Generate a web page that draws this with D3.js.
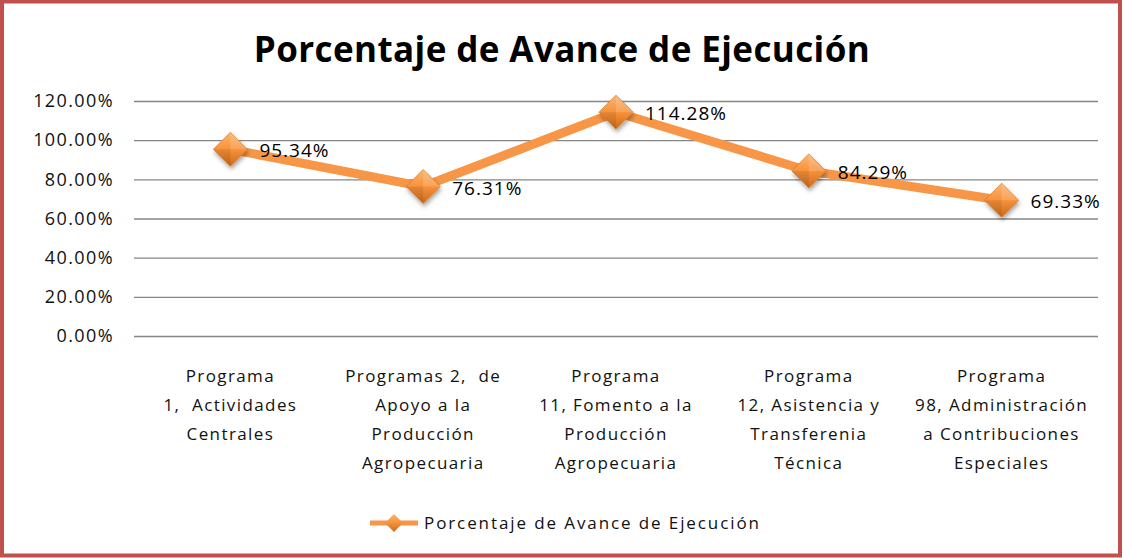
<!DOCTYPE html>
<html>
<head>
<meta charset="utf-8">
<script src="https://cdn.jsdelivr.net/npm/d3@7"></script>
<style>
  body { margin: 0; background: #fff; }
  svg { display: block; }
</style>
</head>
<body>
<svg id="chart" width="1124" height="558"></svg>
<script>
// chart data
const categories = [
  ["Programa", "1,  Actividades", "Centrales"],
  ["Programas 2,  de", "Apoyo a la", "Producción", "Agropecuaria"],
  ["Programa", "11, Fomento a la", "Producción", "Agropecuaria"],
  ["Programa", "12, Asistencia y", "Transferenia", "Técnica"],
  ["Programa", "98, Administración", "a Contribuciones", "Especiales"]
];
const values = [95.34, 76.31, 114.28, 84.29, 69.33];
const yTicks = [0, 20, 40, 60, 80, 100, 120];
const title = "Porcentaje de Avance de Ejecución";
const seriesName = "Porcentaje de Avance de Ejecución";

const svg = d3.select("#chart");
const font = "'Open Sans', 'DejaVu Sans', sans-serif";
const orange = "#f79646";

// frame
svg.append("rect")
  .attr("x", 2).attr("y", 1.5)
  .attr("width", 1118).attr("height", 554)
  .attr("fill", "#fff")
  .attr("stroke", "#c0504d")
  .attr("stroke-width", 4);

// title
svg.append("text")
  .attr("x", 562).attr("y", 62)
  .attr("text-anchor", "middle")
  .style("font", `bold 35px ${font}`)
  .style("letter-spacing", "0.4px")
  .attr("fill", "#000")
  .text(title);

const x = d3.scaleBand()
  .domain(d3.range(categories.length))
  .range([134, 1098]);

const y = d3.scaleLinear()
  .domain([0, 120])
  .range([336, 101]);

// gridlines + y labels
const yAxis = svg.append("g")
  .attr("transform", "translate(134,0)")
  .call(d3.axisLeft(y)
    .tickValues(yTicks)
    .tickSize(-964)
    .tickPadding(20)
    .tickFormat(d => d.toFixed(2) + "%"));
yAxis.select(".domain").remove();
yAxis.selectAll(".tick line").attr("stroke", "#868686").attr("stroke-width", 1.3);
yAxis.selectAll(".tick text")
  .style("font", `18px ${font}`)
  .style("letter-spacing", "1.4px")
  .attr("fill", "#111");

// category labels (keep the double spaces of the original)
const catG = svg.append("g");
categories.forEach((lines, i) => {
  const t = catG.append("text")
    .attr("text-anchor", "middle")
    .style("font", `17px ${font}`)
    .style("letter-spacing", "1.4px")
    .style("white-space", "pre")
    .attr("fill", "#111");
  lines.forEach((ln, j) => {
    t.append("tspan")
      .attr("x", x(i) + x.bandwidth() / 2)
      .attr("y", 382 + j * 29)
      .text(ln);
  });
});

// gradient + shadow for markers
const defs = svg.append("defs");
const grad = defs.append("linearGradient")
  .attr("id", "mk").attr("x1", "0").attr("y1", "0").attr("x2", "0").attr("y2", "1");
grad.append("stop").attr("offset", "0").attr("stop-color", "#fbb673");
grad.append("stop").attr("offset", "0.5").attr("stop-color", "#f7923a");
grad.append("stop").attr("offset", "1").attr("stop-color", "#c96a1c");
const flt = defs.append("filter").attr("id", "sh")
  .attr("x", "-50%").attr("y", "-50%").attr("width", "200%").attr("height", "200%");
flt.append("feDropShadow")
  .attr("dx", 1).attr("dy", 3).attr("stdDeviation", 2)
  .attr("flood-color", "#000").attr("flood-opacity", 0.35);

const cx = i => x(i) + x.bandwidth() / 2;

// line
const line = d3.line()
  .x((d, i) => cx(i))
  .y(d => y(d));
svg.append("path")
  .datum(values)
  .attr("d", line)
  .attr("fill", "none")
  .attr("stroke", orange)
  .attr("stroke-width", 9)
  .attr("stroke-linejoin", "round");

// markers
const diamond = "M0,-17L17,0L0,17L-17,0Z";
svg.selectAll("g.marker")
  .data(values)
  .enter()
  .append("g")
  .attr("class", "marker")
  .attr("transform", (d, i) => `translate(${cx(i)},${y(d)})`)
  .each(function() {
    const g = d3.select(this);
    g.append("path").attr("d", diamond)
      .attr("fill", "url(#mk)")
      .attr("stroke", "#d9802e").attr("stroke-width", 0.8)
      .attr("filter", "url(#sh)");
    g.append("path").attr("d", "M0,-17L17,0L0,0Z").attr("fill", "#fff").attr("opacity", 0.15);
    g.append("path").attr("d", "M-17,0L0,0L0,17Z").attr("fill", "#000").attr("opacity", 0.08);
  });

// data labels
svg.selectAll("text.dl")
  .data(values)
  .enter()
  .append("text")
  .attr("class", "dl")
  .attr("x", (d, i) => cx(i) + 29)
  .attr("y", d => y(d) + 8)
  .style("font", `19px ${font}`)
  .style("letter-spacing", "1px")
  .attr("fill", "#000")
  .text(d => d.toFixed(2) + "%");

// legend
const lg = svg.append("g").attr("transform", "translate(370,523)");
lg.append("line")
  .attr("x1", 0).attr("x2", 48)
  .attr("stroke", orange).attr("stroke-width", 5);
lg.append("path")
  .attr("transform", "translate(24,0)")
  .attr("d", "M0,-9L9,0L0,9L-9,0Z")
  .attr("fill", "url(#mk)");
lg.append("text")
  .attr("x", 54).attr("y", 6)
  .style("font", `17px ${font}`)
  .style("letter-spacing", "1.9px")
  .attr("fill", "#111")
  .text(seriesName);
</script>
</body>
</html>
